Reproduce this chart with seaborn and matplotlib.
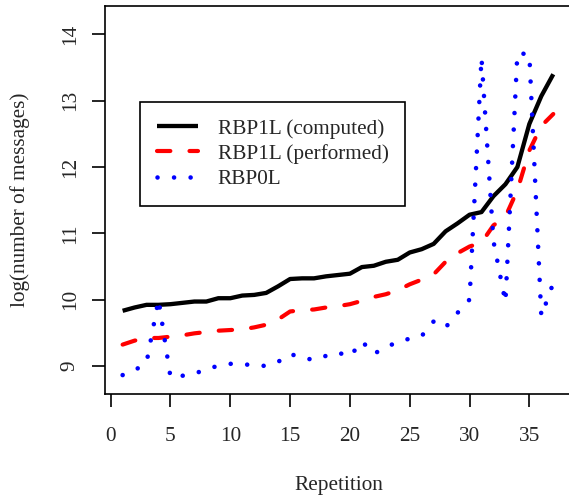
import matplotlib
matplotlib.use("Agg")
import matplotlib.pyplot as plt
import seaborn as sns
import numpy as np
import pandas as pd

repetition = list(range(1, 38))
rbp1l_computed = [9.83, 9.88, 9.92, 9.92, 9.93, 9.95, 9.97, 9.97, 10.02, 10.02,
                  10.06, 10.07, 10.10, 10.20, 10.31, 10.32, 10.32, 10.35, 10.37, 10.39,
                  10.49, 10.51, 10.57, 10.60, 10.71, 10.76, 10.84, 11.03, 11.15, 11.28,
                  11.32, 11.56, 11.74, 12.00, 12.65, 13.07, 13.40]
rbp1l_performed = [9.32, 9.38, 9.42, 9.42, 9.44, 9.46, 9.49, 9.51, 9.53, 9.54,
                   9.55, 9.58, 9.62, 9.70, 9.82, 9.84, 9.85, 9.88, 9.90, 9.93,
                   9.98, 10.04, 10.08, 10.14, 10.23, 10.30, 10.38, 10.57, 10.70, 10.80,
                   10.86, 11.12, 11.25, 11.65, 12.25, 12.62, 12.80]
rbp0l = [8.86, 8.93, 9.05, 10.00, 8.83, 8.85, 8.88, 8.95, 9.00, 9.03,
         9.03, 9.00, 9.00, 9.06, 9.18, 9.12, 9.09, 9.15, 9.20, 9.14,
         9.37, 9.18, 9.28, 9.36, 9.41, 9.45, 9.67, 9.58, 9.80, 10.00,
         13.65, 10.88, 9.96, 13.72, 13.70, 9.75, 10.25]
series_names = ["RBP1L (computed)", "RBP1L (performed)", "RBP0L"]
x_ticks = [0, 5, 10, 15, 20, 25, 30, 35]
y_ticks = [9, 10, 11, 12, 13, 14]

df = pd.DataFrame({"rep": repetition, "comp": rbp1l_computed,
                   "perf": rbp1l_performed, "zero": rbp0l})

sns.set_style("white")
plt.rcParams["font.family"] = ["Liberation Serif", "DejaVu Serif"]
fs = 15.3

W, H = 569, 497
fig = plt.figure(figsize=(W / 100, H / 100), dpi=100)
ax = fig.add_axes([105.4 / W, 1 - 394.3 / H, (573 - 105.4) / W, (394.3 - 6) / H])

sns.lineplot(data=df, x="rep", y="comp", ax=ax, color="black", lw=3.1,
             label=series_names[0], solid_capstyle="butt")
sns.lineplot(data=df, x="rep", y="perf", ax=ax, color="#ff0000", lw=3.0,
             label=series_names[1])
sns.lineplot(data=df, x="rep", y="zero", ax=ax, color="#0000ff", lw=3.3,
             label=series_names[2])
l_comp, l_perf, l_zero = ax.lines[0], ax.lines[1], ax.lines[2]
l_perf.set_dashes((3.2, 4.6))
l_perf.set_dash_capstyle("round")
l_zero.set_dashes((0.01, 3.6))
l_zero.set_dash_capstyle("round")

ax.set_xlim(-0.44, 38.44 + 2.5 / 11.96)
ax.set_ylim(8.57, 14.43)
ax.set_xticks(x_ticks)
ax.set_yticks(y_ticks)
ax.set_xticklabels([str(t) for t in x_ticks], fontsize=fs)
ax.set_yticklabels([str(t) for t in y_ticks], fontsize=fs, rotation=90, va="center")
ax.tick_params(axis="both", direction="out", length=9.5, width=1.2, color="black",
               bottom=True, left=True)
ax.tick_params(axis="x", pad=14)
ax.tick_params(axis="y", pad=9)
for s in ax.spines.values():
    s.set_visible(True)
    s.set_color("black")
    s.set_linewidth(1.2)
ax.set_xlabel("Repetition", fontsize=fs, labelpad=22)
ax.set_ylabel("log(number of messages)", fontsize=fs, labelpad=22)
ax.grid(False)

leg = ax.legend(loc="upper left", bbox_to_anchor=(140 / W, 1 - 101.7 / H),
                bbox_transform=fig.transFigure, borderaxespad=0, fontsize=fs,
                frameon=True, fancybox=False, edgecolor="black", framealpha=1,
                handlelength=1.95, handletextpad=0.9, labelspacing=0.25,
                borderpad=0.8)
leg.get_frame().set_linewidth(1.2)

fig.savefig("out.png", dpi=100)
